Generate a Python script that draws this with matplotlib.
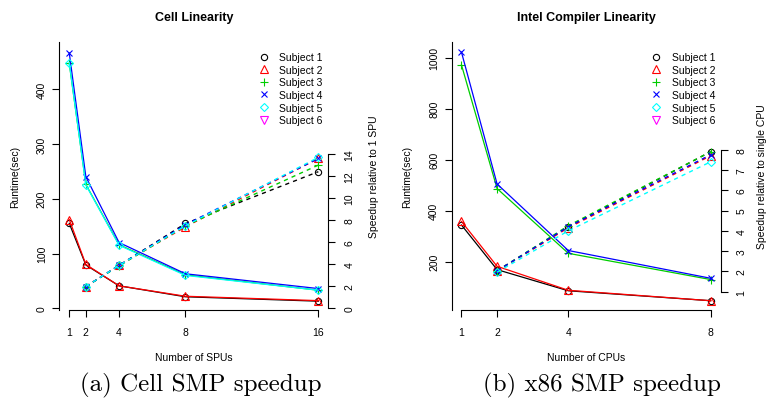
import matplotlib
matplotlib.use("Agg")
import matplotlib.pyplot as plt
from matplotlib.lines import Line2D

plt.rcParams['font.family'] = ['Liberation Sans', 'DejaVu Sans']
plt.rcParams['lines.scale_dashes'] = False

# Cell SMP data (runtime in sec, speedup relative to 1 SPU)
spus = [1, 2, 4, 8, 16]
cell_runtime = [
    [155, 79, 41, 21, 13],
    [162, 80, 41, 22, 14],
    [447, 226, 116, 61, 33],
    [466, 240, 120, 63, 36],
    [448, 225, 115, 60, 33],
]
cell_speedup = [
    [1.98, 3.9, 7.7, 12.4],
    [1.98, 3.9, 7.4, 13.6],
    [1.98, 3.85, 7.5, 13.0],
    [1.98, 3.9, 7.6, 13.6],
    [1.98, 3.9, 7.5, 13.7],
]

# x86 SMP data (runtime in sec, speedup relative to single CPU)
cpus = [1, 2, 4, 8]
intel_runtime = [
    [344, 169, 86, 47],
    [358, 182, 88, 47],
    [972, 487, 233, 130],
    [1022, 505, 244, 135],
]
intel_speedup = [
    [2.03, 4.2, 7.9],
    [2.03, 4.15, 7.7],
    [2.03, 4.25, 7.9],
    [2.03, 4.2, 7.75],
    [1.96, 4.0, 7.4],
]

subjects = ['Subject 1', 'Subject 2', 'Subject 3', 'Subject 4', 'Subject 5', 'Subject 6']
colors = ['black', 'red', '#00CD00', 'blue', 'cyan', 'magenta']
markers = ['o', '^', '+', 'x', 'D', 'v']
msizes = [4.5, 5.5, 6, 5, 4.5, 5.5]

W, H = 769, 410
fig = plt.figure(figsize=(W / 100, H / 100), dpi=100)


def px_axes(x0, x1, y0, y1):
    return fig.add_axes([x0 / W, 1 - y1 / H, (x1 - x0) / W, (y1 - y0) / H])


def style_axis(ax, ax2, xt, rbounds):
    for a in (ax, ax2):
        a.spines['top'].set_visible(False)
        for s in a.spines.values():
            s.set_linewidth(0.8)
    ax.spines['right'].set_visible(False)
    ax2.spines['left'].set_visible(False)
    ax2.spines['bottom'].set_visible(False)
    ax.spines['bottom'].set_bounds(xt[0], xt[-1])
    ax2.spines['right'].set_bounds(*rbounds)
    ax.set_xticks(xt)
    ax.tick_params(axis='x', length=5, width=0.8, pad=7, labelsize=7.5)
    ax.tick_params(axis='y', length=5, width=0.8, pad=4, labelsize=7.5,
                   labelrotation=90)
    ax2.tick_params(axis='y', length=5, width=0.8, pad=6.5, labelsize=7.5,
                    labelrotation=90)
    for lab in ax.get_yticklabels() + ax2.get_yticklabels():
        lab.set_va('center')


def draw_panel(x0, x1, xs, runtime, speedup, xlim, ylim, y2lim, yt, y2t,
               title, xlabel, y2label, y2off, caption, cap_x):
    ax = px_axes(x0, x1, 43, 311)
    ax2 = ax.twinx()
    for i, r in enumerate(runtime):
        ax.plot(xs, r, color=colors[i], lw=0.9, marker=markers[i],
                ms=msizes[i], mfc='none', mew=0.8)
    for i, s in enumerate(speedup):
        ax2.plot(xs[1:], s, color=colors[i], lw=1.0, ls=(0, (3, 3)),
                 marker=markers[i], ms=msizes[i], mfc='none', mew=0.8)
    ax.set_xlim(*xlim)
    ax.set_ylim(*ylim)
    ax2.set_ylim(*y2lim)
    ax.set_yticks(yt)
    ax2.set_yticks(y2t)
    style_axis(ax, ax2, xs, (y2t[0], y2t[-1]))
    ax.set_title(title, fontsize=9, fontweight='bold', y=1 + 25 / 268,
                 va='center', pad=0)
    ax.set_xlabel(xlabel, fontsize=7.5)
    ax.xaxis.set_label_coords(0.5, -47 / 268)
    ax.xaxis.label.set_va('center')
    ax.set_ylabel('Runtime(sec)', fontsize=7.5)
    ax.yaxis.set_label_coords(-44 / (x1 - x0), 0.5)
    ax.yaxis.label.set_va('center')
    ax2.set_ylabel(y2label, fontsize=7.5, rotation=90)
    ax2.yaxis.set_label_coords(1 + y2off / (x1 - x0), 0.5)
    ax2.yaxis.label.set_va('center')
    handles = [Line2D([], [], ls='none', color=c, marker=m, ms=ms, mfc='none',
                      mew=0.8) for c, m, ms in zip(colors, markers, msizes)]
    ax.legend(handles, subjects, loc='upper left', frameon=False,
              bbox_to_anchor=((x0 + 194) / W, 1 - 48 / H),
              bbox_transform=fig.transFigure, fontsize=7.5, borderpad=0,
              handlelength=1.0, handletextpad=1.0, labelspacing=0.25)
    fig.text(cap_x / W, 1 - 385 / H, caption, ha='center', va='center',
             fontsize=18, family='cmr10')
    return ax, ax2


draw_panel(59.3, 328.3, spus, cell_runtime, cell_speedup,
           (0.4, 16.6), (-3.1, 486), (-0.15, 24.17),
           [0, 100, 200, 300, 400], [0, 2, 4, 6, 8, 10, 12, 14],
           'Cell Linearity', 'Number of SPUs', 'Speedup relative to 1 SPU', 46,
           '(a) Cell SMP speedup', 201)

draw_panel(451.5, 720.7, cpus, intel_runtime, intel_speedup,
           (0.72, 8.28), (10.6, 1062), (0.1, 13.3),
           [200, 400, 600, 800, 1000], [1, 2, 3, 4, 5, 6, 7, 8],
           'Intel Compiler Linearity', 'Number of CPUs',
           'Speedup relative to single CPU', 41,
           '(b) x86 SMP speedup', 602)

fig.savefig('out.png', dpi=100)
